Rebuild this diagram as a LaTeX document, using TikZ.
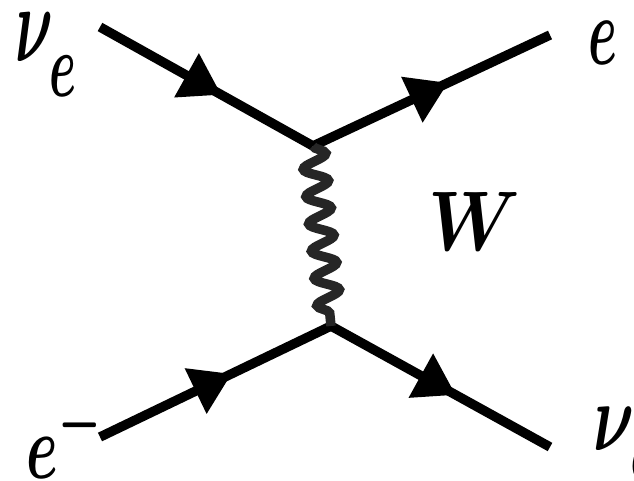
\documentclass[tikz,border=0pt]{standalone}
\usetikzlibrary{arrows.meta,decorations.markings,decorations.pathmorphing}
\tikzset{
  fermion/.style={line width=9.5pt, decoration={markings, mark=at position 0.57 with {\arrow{Triangle[length=40pt,width=48pt]}}}, postaction={decorate}},
  boson/.style={line width=9.5pt, draw=black!85, decorate, decoration={snake, amplitude=12pt, segment length=27.4pt}},
  lbl/.style={inner sep=0pt, anchor=base west, font=\Huge\boldmath}
}
\newcommand{\lowsub}[1]{\lower 4pt\hbox{$\scriptstyle #1$}}
\begin{document}
\begin{tikzpicture}[x=1pt, y=-1pt]
\useasboundingbox (0,0) rectangle (634,481);
% end points and vertices
\coordinate (nuin) at (100,27);
\coordinate (eout) at (550,35);
\coordinate (ein) at (100,437);
\coordinate (nuout) at (550,447);
\coordinate (vtop) at (313,146);
\coordinate (vbot) at (331,326);
% lines
\draw[fermion] (nuin) -- (vtop);
\draw[fermion] (vtop) -- (eout);
\draw[fermion] (ein) -- (vbot);
\draw[fermion] (vbot) -- (nuout);
\draw[boson] (vtop) -- (vbot);
% labels
\node[lbl, xscale=2.35, yscale=4.4] (lnuin) at (15,62) {$\nu_{\lowsub{e}}$};
\node[lbl, xscale=2.1, yscale=3.9] (leout) at (588,65) {$e$};
\node[lbl, xscale=2.95, yscale=3.4] (lw) at (428,250) {$W$};
\node[lbl, xscale=2.3, yscale=3.7] (lein) at (26,478) {$e^-$};
\node[lbl, xscale=2.55, yscale=3.9] (lnuout) at (593,450) {$\nu_{\lowsub{e}}$};
\end{tikzpicture}
\end{document}
